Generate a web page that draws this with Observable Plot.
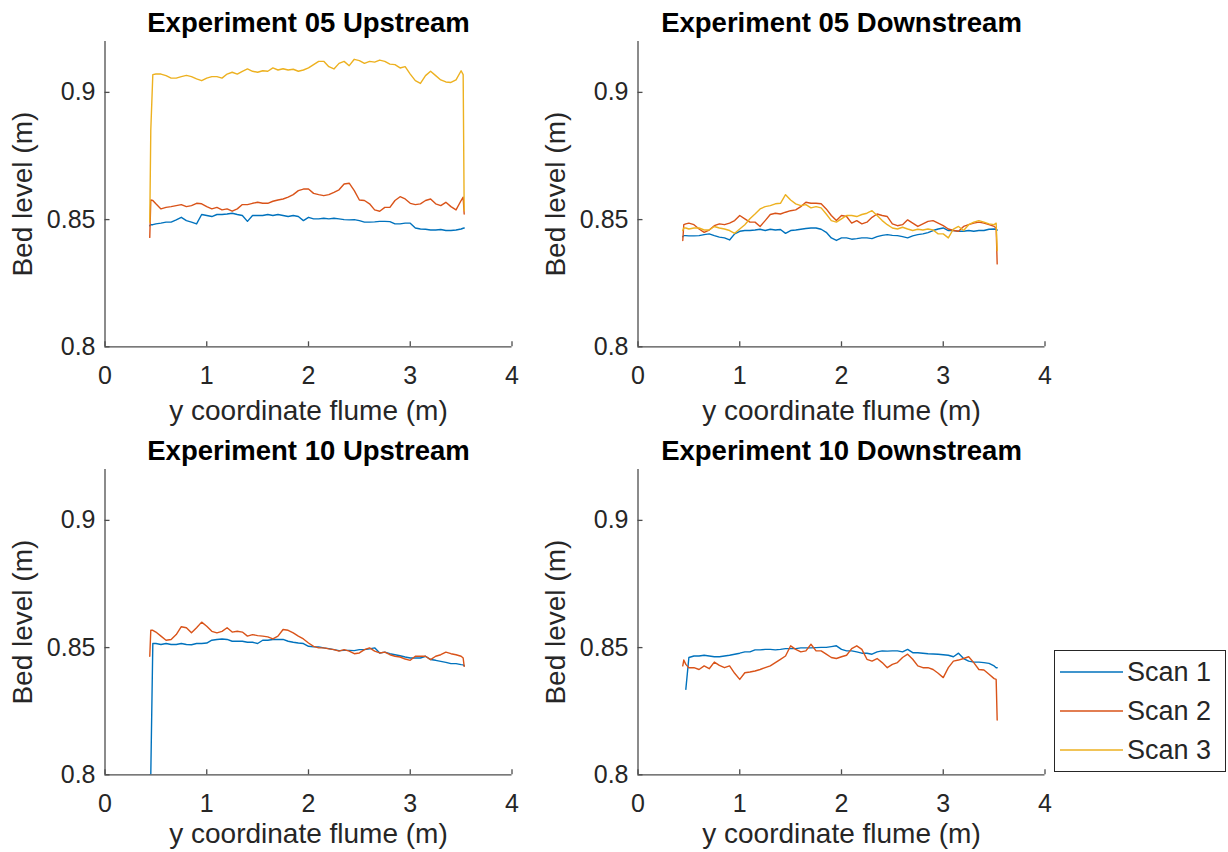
<!DOCTYPE html>
<html>
<head>
<meta charset="utf-8">
<script src="https://cdn.jsdelivr.net/npm/d3@7"></script>
<script src="https://cdn.jsdelivr.net/npm/@observablehq/plot@0.6"></script>
<style>
  body { margin: 0; background: #fff; }
  #fig { position: relative; width: 1228px; height: 852px; background: #fff; overflow: hidden;
         font-family: "Liberation Sans", Arial, Helvetica, sans-serif; }
  #fig .panel { position: absolute; }
  #legend { position: absolute; left: 1054px; top: 650px; }
</style>
</head>
<body>
<div id="fig"></div>
<script>
// Cross-flume positions (m) at which the scanned bed levels are sampled
const yCoord = [0.44, 0.45, 0.47,
  0.50, 0.55, 0.60, 0.65, 0.70, 0.75, 0.80, 0.85, 0.90, 0.95,
  1.00, 1.05, 1.10, 1.15, 1.20, 1.25, 1.30, 1.35, 1.40, 1.45,
  1.50, 1.55, 1.60, 1.65, 1.70, 1.75, 1.80, 1.85, 1.90, 1.95,
  2.00, 2.05, 2.10, 2.15, 2.20, 2.25, 2.30, 2.35, 2.40, 2.45,
  2.50, 2.55, 2.60, 2.65, 2.70, 2.75, 2.80, 2.85, 2.90, 2.95,
  3.00, 3.05, 3.10, 3.15, 3.20, 3.25, 3.30, 3.35, 3.40, 3.45,
  3.50, 3.52, 3.53];

// Bed level (m) — Experiment 05, upstream section
const exp05UpScan1 = [0.8476, 0.8480, 0.8480,
  0.8483, 0.8486, 0.8490, 0.8490, 0.8499, 0.8509, 0.8496, 0.8490, 0.8483, 0.8520,
  0.8516, 0.8512, 0.8520, 0.8520, 0.8522, 0.8525, 0.8520, 0.8516, 0.8493, 0.8516,
  0.8516, 0.8516, 0.8520, 0.8516, 0.8520, 0.8516, 0.8512, 0.8516, 0.8512, 0.8496,
  0.8509, 0.8503, 0.8503, 0.8505, 0.8503, 0.8505, 0.8503, 0.8500, 0.8499, 0.8500,
  0.8496, 0.8490, 0.8490, 0.8491, 0.8493, 0.8493, 0.8492, 0.8483, 0.8483, 0.8486,
  0.8486, 0.8467, 0.8463, 0.8462, 0.8459, 0.8459, 0.8461, 0.8457, 0.8457, 0.8459,
  0.8463, 0.8466, 0.8467];
const exp05UpScan2 = [0.8430, 0.8577, 0.8575,
  0.8562, 0.8542, 0.8548, 0.8551, 0.8555, 0.8559, 0.8551, 0.8555, 0.8564, 0.8562,
  0.8551, 0.8542, 0.8548, 0.8538, 0.8542, 0.8533, 0.8542, 0.8559, 0.8559, 0.8564,
  0.8568, 0.8564, 0.8564, 0.8572, 0.8577, 0.8581, 0.8588, 0.8598, 0.8614, 0.8620,
  0.8620, 0.8603, 0.8598, 0.8594, 0.8598, 0.8607, 0.8617, 0.8640, 0.8643, 0.8614,
  0.8577, 0.8575, 0.8562, 0.8538, 0.8533, 0.8548, 0.8548, 0.8575, 0.8590, 0.8581,
  0.8564, 0.8559, 0.8562, 0.8575, 0.8581, 0.8562, 0.8555, 0.8568, 0.8551, 0.8538,
  0.8575, 0.8588, 0.8522];
const exp05UpScan3 = [0.8490, 0.8850, 0.9070,
  0.9072, 0.9072, 0.9066, 0.9056, 0.9056, 0.9062, 0.9067, 0.9062, 0.9053, 0.9046,
  0.9056, 0.9062, 0.9062, 0.9056, 0.9072, 0.9079, 0.9072, 0.9083, 0.9092, 0.9083,
  0.9079, 0.9085, 0.9083, 0.9096, 0.9088, 0.9093, 0.9088, 0.9091, 0.9083, 0.9088,
  0.9096, 0.9109, 0.9122, 0.9122, 0.9101, 0.9092, 0.9114, 0.9122, 0.9105, 0.9130,
  0.9125, 0.9114, 0.9122, 0.9119, 0.9127, 0.9122, 0.9111, 0.9109, 0.9096, 0.9101,
  0.9072, 0.9046, 0.9035, 0.9066, 0.9083, 0.9066, 0.9049, 0.9041, 0.9039, 0.9049,
  0.9085, 0.9070, 0.8535];

// Bed level (m) — Experiment 05, downstream section
const exp05DownScan1 = [0.8433, 0.8437, 0.8437,
  0.8436, 0.8436, 0.8437, 0.8441, 0.8444, 0.8437, 0.8431, 0.8428, 0.8420, 0.8444,
  0.8454, 0.8457, 0.8457, 0.8459, 0.8462, 0.8457, 0.8462, 0.8459, 0.8461, 0.8446,
  0.8457, 0.8459, 0.8462, 0.8465, 0.8467, 0.8467, 0.8462, 0.8450, 0.8428, 0.8418,
  0.8428, 0.8428, 0.8423, 0.8425, 0.8428, 0.8428, 0.8425, 0.8433, 0.8438, 0.8441,
  0.8438, 0.8437, 0.8433, 0.8428, 0.8436, 0.8441, 0.8444, 0.8449, 0.8457, 0.8463,
  0.8467, 0.8457, 0.8457, 0.8454, 0.8454, 0.8457, 0.8454, 0.8457, 0.8457, 0.8462,
  0.8463, 0.8462, 0.8459];
const exp05DownScan2 = [0.8418, 0.8480, 0.8483,
  0.8486, 0.8480, 0.8463, 0.8450, 0.8459, 0.8476, 0.8483, 0.8480, 0.8486, 0.8496,
  0.8516, 0.8503, 0.8490, 0.8490, 0.8473, 0.8496, 0.8520, 0.8525, 0.8522, 0.8529,
  0.8535, 0.8538, 0.8551, 0.8568, 0.8564, 0.8564, 0.8562, 0.8542, 0.8516, 0.8496,
  0.8516, 0.8512, 0.8486, 0.8496, 0.8483, 0.8490, 0.8509, 0.8522, 0.8516, 0.8512,
  0.8483, 0.8476, 0.8480, 0.8499, 0.8486, 0.8473, 0.8483, 0.8493, 0.8496, 0.8486,
  0.8476, 0.8463, 0.8457, 0.8454, 0.8473, 0.8480, 0.8486, 0.8490, 0.8486, 0.8480,
  0.8473, 0.8467, 0.8326];
const exp05DownScan3 = [0.8457, 0.8467, 0.8467,
  0.8463, 0.8467, 0.8467, 0.8459, 0.8459, 0.8473, 0.8467, 0.8463, 0.8457, 0.8446,
  0.8463, 0.8480, 0.8503, 0.8522, 0.8542, 0.8551, 0.8555, 0.8562, 0.8564, 0.8598,
  0.8577, 0.8562, 0.8555, 0.8559, 0.8546, 0.8551, 0.8546, 0.8522, 0.8496, 0.8490,
  0.8503, 0.8516, 0.8516, 0.8512, 0.8520, 0.8525, 0.8535, 0.8516, 0.8496, 0.8480,
  0.8467, 0.8463, 0.8470, 0.8463, 0.8457, 0.8462, 0.8459, 0.8463, 0.8459, 0.8444,
  0.8444, 0.8428, 0.8463, 0.8473, 0.8457, 0.8480, 0.8490, 0.8496, 0.8490, 0.8483,
  0.8480, 0.8486, 0.8378];

// Bed level (m) — Experiment 10, upstream section
const exp10UpScan1 = [0.8000, 0.8000, 0.8516,
  0.8516, 0.8512, 0.8516, 0.8512, 0.8512, 0.8516, 0.8512, 0.8511, 0.8516, 0.8516,
  0.8518, 0.8529, 0.8532, 0.8534, 0.8532, 0.8525, 0.8525, 0.8525, 0.8521, 0.8521,
  0.8516, 0.8529, 0.8529, 0.8532, 0.8532, 0.8532, 0.8525, 0.8521, 0.8518, 0.8516,
  0.8505, 0.8503, 0.8503, 0.8499, 0.8496, 0.8492, 0.8488, 0.8489, 0.8489, 0.8488,
  0.8492, 0.8492, 0.8495, 0.8499, 0.8479, 0.8482, 0.8476, 0.8472, 0.8468, 0.8463,
  0.8459, 0.8459, 0.8459, 0.8466, 0.8453, 0.8450, 0.8446, 0.8442, 0.8437, 0.8437,
  0.8433, 0.8432, 0.8429];
const exp10UpScan2 = [0.8466, 0.8568, 0.8568,
  0.8561, 0.8545, 0.8529, 0.8532, 0.8551, 0.8582, 0.8578, 0.8558, 0.8578, 0.8600,
  0.8584, 0.8564, 0.8558, 0.8564, 0.8578, 0.8561, 0.8564, 0.8561, 0.8545, 0.8551,
  0.8547, 0.8545, 0.8542, 0.8534, 0.8545, 0.8571, 0.8568, 0.8558, 0.8545, 0.8534,
  0.8518, 0.8505, 0.8499, 0.8499, 0.8495, 0.8492, 0.8486, 0.8492, 0.8486, 0.8476,
  0.8479, 0.8492, 0.8499, 0.8486, 0.8479, 0.8482, 0.8472, 0.8466, 0.8463, 0.8455,
  0.8450, 0.8466, 0.8466, 0.8466, 0.8453, 0.8466, 0.8472, 0.8482, 0.8476, 0.8472,
  0.8466, 0.8459, 0.8426];

// Bed level (m) — Experiment 10, downstream section (null: outside the scan)
const exp10DownScan1 = [null, null, 0.8336,
  0.8461, 0.8467, 0.8467, 0.8470, 0.8467, 0.8464, 0.8464, 0.8467, 0.8470, 0.8474,
  0.8478, 0.8483, 0.8483, 0.8491, 0.8491, 0.8493, 0.8493, 0.8491, 0.8493, 0.8496,
  0.8496, 0.8496, 0.8499, 0.8499, 0.8499, 0.8500, 0.8501, 0.8501, 0.8504, 0.8507,
  0.8493, 0.8487, 0.8487, 0.8483, 0.8478, 0.8478, 0.8474, 0.8483, 0.8487, 0.8486,
  0.8487, 0.8487, 0.8483, 0.8493, 0.8480, 0.8480, 0.8478, 0.8476, 0.8475, 0.8474,
  0.8472, 0.8470, 0.8464, 0.8478, 0.8457, 0.8447, 0.8443, 0.8443, 0.8441, 0.8438,
  0.8428, 0.8421, 0.8421];
const exp10DownScan2 = [0.8428, 0.8451, 0.8434,
  0.8421, 0.8421, 0.8414, 0.8428, 0.8417, 0.8443, 0.8430, 0.8421, 0.8428, 0.8399,
  0.8375, 0.8401, 0.8404, 0.8408, 0.8414, 0.8421, 0.8428, 0.8441, 0.8454, 0.8467,
  0.8507, 0.8493, 0.8483, 0.8487, 0.8513, 0.8487, 0.8487, 0.8474, 0.8461, 0.8457,
  0.8464, 0.8470, 0.8496, 0.8507, 0.8493, 0.8454, 0.8447, 0.8457, 0.8441, 0.8421,
  0.8434, 0.8441, 0.8461, 0.8474, 0.8454, 0.8428, 0.8421, 0.8421, 0.8414, 0.8399,
  0.8382, 0.8421, 0.8447, 0.8451, 0.8457, 0.8464, 0.8441, 0.8414, 0.8412, 0.8395,
  0.8378, 0.8375, 0.8215];

const scanNames = ["Scan 1", "Scan 2", "Scan 3"];
const scanColors = ["#0072BD", "#D95319", "#EDB120"];
const xTicks = [0, 1, 2, 3, 4];
const yTicks = [0.8, 0.85, 0.9];
const xLabel = "y coordinate flume (m)";
const yLabel = "Bed level (m)";

const panels = [
  {title: "Experiment 05 Upstream",   series: [exp05UpScan1, exp05UpScan2, exp05UpScan3],       left: 0,     top: 0,   labelGap: 64.7},
  {title: "Experiment 05 Downstream", series: [exp05DownScan1, exp05DownScan2, exp05DownScan3], left: 532.5, top: 0,   labelGap: 64.7},
  {title: "Experiment 10 Upstream",   series: [exp10UpScan1, exp10UpScan2],                     left: 0,     top: 428, labelGap: 59.7},
  {title: "Experiment 10 Downstream", series: [exp10DownScan1, exp10DownScan2],                 left: 532.5, top: 428, labelGap: 59.7}
];

const axisGray = "#262626";
const lineGray = "#4d4d4d";
const fig = document.getElementById("fig");

for (const p of panels) {
  const rows = p.series.flatMap((vals, i) =>
    vals.map((v, j) => ({x: yCoord[j], y: v, scan: scanNames[i]})));

  const chart = Plot.plot({
    width: 530,
    height: 424,
    marginLeft: 104.5,
    marginRight: 18.5,
    marginTop: 41,
    marginBottom: 77.7,
    style: {fontFamily: '"Liberation Sans", Arial, Helvetica, sans-serif', fontSize: "25px",
            color: axisGray, background: "transparent", overflow: "visible"},
    x: {domain: [0, 4]},
    y: {domain: [0.8, 0.92]},
    color: {domain: scanNames, range: scanColors},
    marks: [
      Plot.line(rows, {x: "x", y: "y", z: "scan", stroke: "scan", strokeWidth: 1.4, clip: true}),
      // axis lines (left and bottom only)
      Plot.ruleX([0], {stroke: lineGray, strokeWidth: 1.3}),
      Plot.ruleY([0.8], {stroke: lineGray, strokeWidth: 1.3}),
      // tick labels
      Plot.axisX(xTicks, {tickSize: 0, tickPadding: 19, tickFormat: d => String(d), label: null, fill: axisGray}),
      Plot.axisY(yTicks, {tickSize: 0, tickPadding: 9.5, tickFormat: d => String(d), label: null, fill: axisGray}),
      // inward tick marks
      Plot.axisX(xTicks, {tickSize: -5, tickFormat: () => "", label: null, stroke: lineGray, strokeWidth: 1.3}),
      Plot.axisY(yTicks, {tickSize: -5, tickFormat: () => "", label: null, stroke: lineGray, strokeWidth: 1.3}),
      // axis titles and panel title
      Plot.text([xLabel], {text: d => d, frameAnchor: "bottom", dy: p.labelGap, fontSize: 28,
                           lineAnchor: "middle", textAnchor: "middle", fill: axisGray}),
      Plot.text([yLabel], {text: d => d, frameAnchor: "left", dx: -81.5, rotate: -90, fontSize: 28,
                           lineAnchor: "middle", textAnchor: "middle", fill: axisGray}),
      Plot.text([p.title], {text: d => d, frameAnchor: "top", dy: -18, fontSize: 27.5,
                            fontWeight: "bold", lineAnchor: "middle", textAnchor: "middle", fill: "#000"})
    ]
  });
  chart.classList.add("panel");
  chart.style.left = p.left + "px";
  chart.style.top = p.top + "px";
  fig.appendChild(chart);
}

// Legend box with a line sample per scan
const legend = d3.select(fig).append("svg")
  .attr("id", "legend")
  .attr("width", 172)
  .attr("height", 122)
  .style("font-family", '"Liberation Sans", Arial, Helvetica, sans-serif');
legend.append("rect")
  .attr("x", 0.5).attr("y", 0.5).attr("width", 171).attr("height", 121)
  .attr("fill", "#fff").attr("stroke", axisGray).attr("stroke-width", 1);
scanNames.forEach((name, i) => {
  const cy = 22 + i * 39;
  legend.append("line")
    .attr("x1", 6).attr("x2", 69).attr("y1", cy).attr("y2", cy)
    .attr("stroke", scanColors[i]).attr("stroke-width", 1.4);
  legend.append("text")
    .attr("x", 73).attr("y", cy).attr("dy", "0.35em")
    .attr("font-size", 27).attr("fill", axisGray)
    .text(name);
});
</script>
</body>
</html>
